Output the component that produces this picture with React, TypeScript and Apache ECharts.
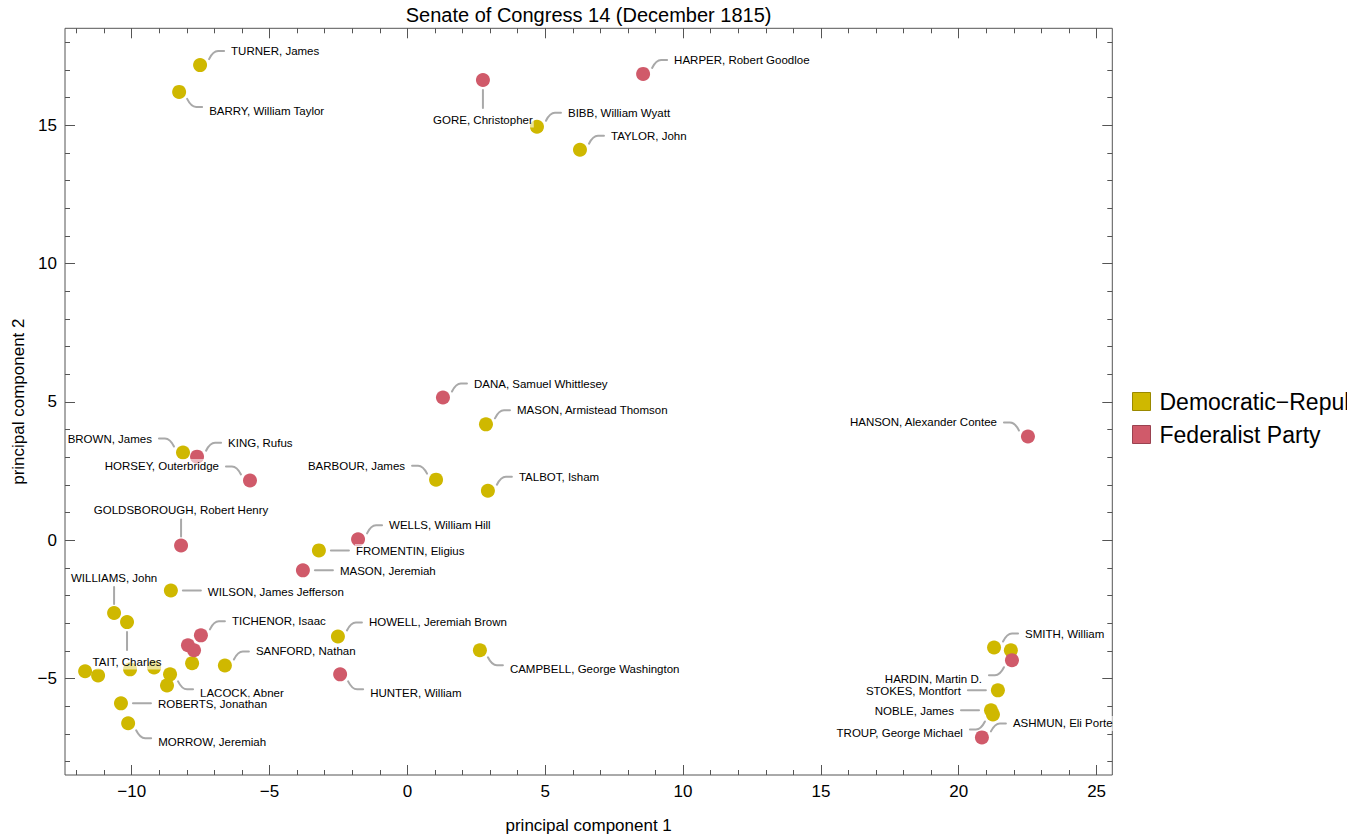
import React, { useEffect, useRef } from "react";
import * as echarts from "echarts";

// ---- data ----
const senators: string[] = [
  "TURNER, James", "BARRY, William Taylor", "GORE, Christopher", "HARPER, Robert Goodloe",
  "BIBB, William Wyatt", "TAYLOR, John", "DANA, Samuel Whittlesey", "MASON, Armistead Thomson",
  "HANSON, Alexander Contee", "BROWN, James", "KING, Rufus", "HORSEY, Outerbridge",
  "BARBOUR, James", "TALBOT, Isham", "GOLDSBOROUGH, Robert Henry", "WELLS, William Hill",
  "FROMENTIN, Eligius", "MASON, Jeremiah", "WILSON, James Jefferson", "WILLIAMS, John",
  "TAIT, Charles", "TICHENOR, Isaac", "", "",
  "HOWELL, Jeremiah Brown", "CAMPBELL, George Washington", "SANFORD, Nathan", "",
  "", "", "", "",
  "LACOCK, Abner", "", "HUNTER, William", "ROBERTS, Jonathan",
  "MORROW, Jeremiah", "SMITH, William", "", "HARDIN, Martin D.",
  "STOKES, Montfort", "NOBLE, James", "TROUP, George Michael", "ASHMUN, Eli Porter",
];
const pc1: number[] = [
  -7.52, -8.28, 2.74, 8.55,
  4.70, 6.26, 1.29, 2.85,
  22.51, -8.14, -7.63, -5.71,
  1.04, 2.92, -8.21, -1.79,
  -3.21, -3.79, -8.58, -10.64,
  -10.17, -7.49, -7.96, -7.74,
  -2.52, 2.63, -6.62, -7.81,
  -11.69, -11.22, -10.06, -9.19,
  -8.61, -8.72, -2.44, -10.39,
  -10.13, 21.28, 21.89, 21.93,
  21.42, 21.17, 21.24, 20.84,
];
const pc2: number[] = [
  17.18, 16.21, 16.64, 16.86,
  14.95, 14.12, 5.16, 4.19,
  3.75, 3.17, 3.02, 2.16,
  2.19, 1.79, -0.19, 0.03,
  -0.37, -1.09, -1.82, -2.63,
  -2.96, -3.44, -3.80, -3.98,
  -3.48, -3.98, -4.53, -4.45,
  -4.74, -4.89, -4.67, -4.60,
  -4.85, -5.25, -4.85, -5.90,
  -6.62, -3.88, -3.98, -4.34,
  -5.43, -6.15, -6.30, -7.13,
];
// 0 = Democratic-Republican, 1 = Federalist Party
const partyIndex: number[] = [
  0, 0, 1, 1,
  0, 0, 1, 0,
  1, 0, 1, 1,
  0, 0, 1, 1,
  0, 1, 0, 0,
  0, 1, 1, 1,
  0, 0, 0, 0,
  0, 0, 0, 0,
  0, 0, 1, 0,
  0, 0, 0, 1,
  0, 0, 0, 1,
];
const parties: string[] = ["Democratic\u2212Republican", "Federalist Party"];

// callout placement for each point (layout, not data)
const calloutSide: string[] = [
  "ur", "dr", "d", "ur",
  "ur", "ur", "ur", "ur",
  "ul", "ul", "ur", "ul",
  "ul", "ur", "u", "ur",
  "r", "r", "r", "u",
  "d", "ur", "", "",
  "ur", "dr", "ur", "",
  "", "", "", "",
  "dr", "", "dr", "r",
  "dr", "ur", "", "dl",
  "l", "l", "dl", "ur",
];

const xMajor = [-10, -5, 0, 5, 10, 15, 20, 25];
const xMinor: number[] = [];
for (let v = -12; v <= 25; v++) xMinor.push(v);
const yMajor = [-5, 0, 5, 10, 15];
const yMinor: number[] = [];
for (let v = -8; v <= 18; v++) yMinor.push(v);

const X_MIN = -12.42, X_MAX = 25.57, Y_MIN = -8.49, Y_MAX = 18.51;
const colors = ["#CFB800", "#D05A6A"];
const borders = ["#9A8900", "#9A4250"];
const FONT = '"Liberation Sans", Arial, Helvetica, sans-serif';
const LEADER = "#A9A9A9";

const minusFmt = (v: number) => String(v).replace("-", "\u2212");

// geometry for callout kinds: path points relative to the point and the label anchor
function callout(kind: string) {
  switch (kind) {
    case "ur": return { p: [[9, -6], [13, -14], [18, -14], [24, -14]], t: [30, -14], a: "left" };
    case "ul": return { p: [[-9, -6], [-13, -14], [-18, -14], [-24, -14]], t: [-30, -14], a: "right" };
    case "dr": return { p: [[8, 7], [12, 15], [17, 15], [23, 15]], t: [29, 19], a: "left" };
    case "dl": return { p: [[-8, 7], [-12, 15], [-17, 15], [-23, 15]], t: [-29, 19], a: "right" };
    case "r": return { p: [[12, 0], [18, 0], [24, 0], [30, 0]], t: [36, 1], a: "left" };
    case "l": return { p: [[-12, 0], [-18, 0], [-24, 0], [-30, 0]], t: [-36, 1], a: "right" };
    case "u": return { p: [[0, -9], [0, -15], [0, -20], [0, -26]], t: [0, -35], a: "center" };
    default: return { p: [[0, 10], [0, 16], [0, 22], [0, 28]], t: [0, 40], a: "center" };
  }
}

export default function App() {
  const ref = useRef<HTMLDivElement>(null);
  useEffect(() => {
    document.body.style.margin = "0";
    if (!ref.current) return;
    const chart = echarts.init(ref.current, undefined, { renderer: "svg" });

    const scatterSeries = parties.map((p, k) => ({
      name: p,
      type: "scatter",
      xAxisIndex: 0,
      yAxisIndex: 0,
      symbol: "circle",
      symbolSize: 14,
      itemStyle: { color: colors[k], opacity: 1 },
      emphasis: { disabled: true },
      z: 2,
      data: pc1
        .map((x, i) => ({ x, i }))
        .filter((d) => partyIndex[d.i] === k)
        .map((d) => [d.x, pc2[d.i]]),
    }));

    const labelData = pc1
      .map((x, i) => [x, pc2[i], i])
      .filter((d) => calloutSide[d[2] as number] !== "");

    const calloutSeries = {
      type: "custom",
      name: "callouts",
      xAxisIndex: 0,
      yAxisIndex: 0,
      clip: true,
      z: 5,
      silent: true,
      encode: { x: 0, y: 1 },
      data: labelData,
      renderItem: (params: any, api: any) => {
        const idx = api.value(2);
        const pt = api.coord([api.value(0), api.value(1)]);
        const g = callout(calloutSide[idx]);
        const q = g.p.map((o) => [pt[0] + o[0], pt[1] + o[1]]);
        const d = `M${q[0][0]},${q[0][1]} Q${q[1][0]},${q[1][1]} ${q[2][0]},${q[2][1]} L${q[3][0]},${q[3][1]}`;
        return {
          type: "group",
          children: [
            {
              type: "text",
              z2: 1,
              x: pt[0] + g.t[0],
              y: pt[1] + g.t[1],
              style: {
                text: senators[idx],
                fontSize: 11.5,
                fontFamily: FONT,
                fill: "#000",
                align: g.a,
                verticalAlign: "middle",
                backgroundColor: "rgba(255,255,255,0.6)",
                padding: [2, 1, 1, 1],
              },
            },
            {
              type: "path",
              z2: 2,
              shape: { pathData: d },
              style: { fill: "none", stroke: LEADER, lineWidth: 2, lineCap: "round" },
            },
          ],
        };
      },
    };

    const baseX = { type: "value", min: X_MIN, max: X_MAX, gridIndex: 0, splitLine: { show: false }, axisLine: { show: false, onZero: false } };
    const baseY = { type: "value", min: Y_MIN, max: Y_MAX, gridIndex: 0, splitLine: { show: false }, axisLine: { show: false, onZero: false } };
    const tickStyle = { color: "#555", width: 1 };
    const labelStyle = { color: "#000", fontSize: 17, fontFamily: FONT };

    chart.setOption({
      animation: false,
      backgroundColor: "#fff",
      textStyle: { fontFamily: FONT },
      title: {
        text: "Senate of Congress 14 (December 1815)",
        left: 588.6,
        top: 5,
        textAlign: "center",
        padding: 0,
        textStyle: { fontSize: 20, fontWeight: "normal", color: "#000", fontFamily: FONT },
      },
      legend: {
        orient: "vertical",
        left: 1132,
        top: 390,
        padding: 0,
        itemWidth: 18,
        itemHeight: 18,
        itemGap: 10,
        selectedMode: false,
        textStyle: { fontSize: 23, color: "#000", fontFamily: FONT, padding: [0, 0, 0, 4] },
        data: parties.map((p, k) => ({
          name: p,
          icon: "rect",
          itemStyle: { color: colors[k], borderColor: borders[k], borderWidth: 1 },
        })),
      },
      grid: {
        left: 65,
        right: 234.7,
        top: 28.3,
        bottom: 63.3,
        show: true,
        borderColor: "#555",
        borderWidth: 1,
        backgroundColor: "transparent",
      },
      xAxis: [
        {
          ...baseX,
          position: "bottom",
          name: "principal component 1",
          nameLocation: "middle",
          nameGap: 42,
          nameTextStyle: { fontSize: 17, color: "#000", fontFamily: FONT },
          axisTick: { show: true, inside: true, length: 10, customValues: xMajor, lineStyle: tickStyle },
          axisLabel: { show: true, margin: 8, customValues: xMajor, formatter: minusFmt, ...labelStyle },
        },
        {
          ...baseX,
          position: "bottom",
          axisTick: { show: true, inside: true, length: 5, customValues: xMinor, lineStyle: tickStyle },
          axisLabel: { show: false },
        },
        {
          ...baseX,
          position: "top",
          axisTick: { show: true, inside: true, length: 10, customValues: xMajor, lineStyle: tickStyle },
          axisLabel: { show: false },
        },
        {
          ...baseX,
          position: "top",
          axisTick: { show: true, inside: true, length: 5, customValues: xMinor, lineStyle: tickStyle },
          axisLabel: { show: false },
        },
      ],
      yAxis: [
        {
          ...baseY,
          position: "left",
          name: "principal component 2",
          nameLocation: "middle",
          nameGap: 38,
          nameRotate: 90,
          nameTextStyle: { fontSize: 17, color: "#000", fontFamily: FONT },
          axisTick: { show: true, inside: true, length: 10, customValues: yMajor, lineStyle: tickStyle },
          axisLabel: { show: true, margin: 8, customValues: yMajor, formatter: minusFmt, ...labelStyle },
        },
        {
          ...baseY,
          position: "left",
          axisTick: { show: true, inside: true, length: 5, customValues: yMinor, lineStyle: tickStyle },
          axisLabel: { show: false },
        },
        {
          ...baseY,
          position: "right",
          axisTick: { show: true, inside: true, length: 10, customValues: yMajor, lineStyle: tickStyle },
          axisLabel: { show: false },
        },
        {
          ...baseY,
          position: "right",
          axisTick: { show: true, inside: true, length: 5, customValues: yMinor, lineStyle: tickStyle },
          axisLabel: { show: false },
        },
      ],
      series: [...scatterSeries, calloutSeries],
    });

    return () => chart.dispose();
  }, []);

  return <div ref={ref} style={{ width: 1347, height: 839 }} />;
}
